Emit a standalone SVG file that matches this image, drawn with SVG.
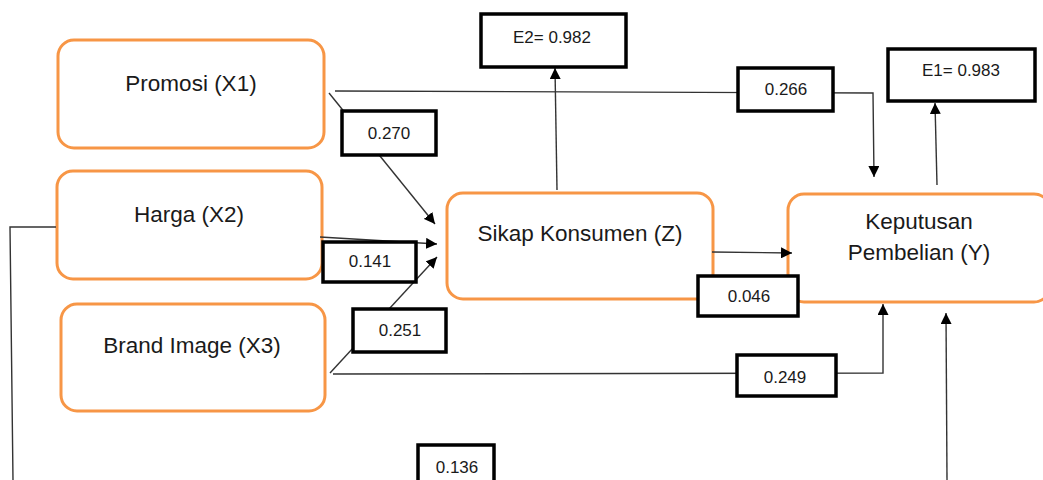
<svg xmlns="http://www.w3.org/2000/svg" width="1043" height="480" viewBox="0 0 1043 480">
  <style>
    .node { fill: #ffffff; stroke: #F79646; stroke-width: 3; }
    .ntext { font-family: "Liberation Sans", Arial, sans-serif; font-size: 22.5px; fill: #1a1a1a; text-anchor: middle; }
    .lbox { fill: #ffffff; stroke: #000000; stroke-width: 3.5; }
    .ltext { font-family: "Liberation Sans", Arial, sans-serif; font-size: 17px; fill: #1a1a1a; text-anchor: middle; }
    .conn { fill: none; stroke: #333333; stroke-width: 1.4; }
  </style>
  <defs>
    <marker id="arr" viewBox="0 0 10 10" refX="10" refY="5" markerWidth="11" markerHeight="11" markerUnits="userSpaceOnUse" orient="auto">
      <path d="M0,0 L10,5 L0,10 Z" fill="#000000"/>
    </marker>
  </defs>
  <rect width="1043" height="480" fill="#ffffff"/>

  <g id="node-promosi">
    <rect class="node" x="58" y="40" width="266" height="108" rx="16"/>
    <text class="ntext" x="191" y="91">Promosi (X1)</text>
  </g>
  <g id="node-harga">
    <rect class="node" x="57" y="171" width="265" height="108" rx="16"/>
    <text class="ntext" x="189" y="222">Harga (X2)</text>
  </g>
  <g id="node-brand">
    <rect class="node" x="61" y="304" width="264" height="107" rx="16"/>
    <text class="ntext" x="192" y="353">Brand Image (X3)</text>
  </g>
  <g id="node-sikap">
    <rect class="node" x="447" y="193" width="266" height="106" rx="16"/>
    <text class="ntext" x="580" y="241">Sikap Konsumen (Z)</text>
  </g>
  <g id="node-keputusan">
    <rect class="node" x="788" y="194" width="262" height="108" rx="16"/>
    <text class="ntext" x="919" y="229">Keputusan</text>
    <text class="ntext" x="919" y="260">Pembelian (Y)</text>
  </g>

  <g id="connectors">
    <line class="conn" x1="329" y1="93" x2="435" y2="224" marker-end="url(#arr)"/>
    <polyline class="conn" points="335,91 873,93 874,177" marker-end="url(#arr)"/>
    <line class="conn" x1="320" y1="237" x2="437" y2="244" marker-end="url(#arr)"/>
    <line class="conn" x1="330" y1="373" x2="437" y2="257" marker-end="url(#arr)"/>
    <polyline class="conn" points="333,374 883,373 883,304" marker-end="url(#arr)"/>
    <line class="conn" x1="712" y1="252" x2="792" y2="253" marker-end="url(#arr)"/>
    <line class="conn" x1="557" y1="190" x2="555" y2="68" marker-end="url(#arr)"/>
    <line class="conn" x1="937" y1="185" x2="935" y2="103" marker-end="url(#arr)"/>
    <polyline class="conn" points="56,227 10,227 13,480"/>
    <line class="conn" x1="947" y1="480" x2="946" y2="313" marker-end="url(#arr)"/>
  </g>

  <g id="label-270">
    <rect class="lbox" x="342" y="111" width="94" height="44"/>
    <text class="ltext" x="389" y="139">0.270</text>
  </g>
  <g id="label-141">
    <rect class="lbox" x="323" y="242" width="93" height="40"/>
    <text class="ltext" x="370" y="267">0.141</text>
  </g>
  <g id="label-251">
    <rect class="lbox" x="353" y="309" width="93" height="43"/>
    <text class="ltext" x="400" y="336">0.251</text>
  </g>
  <g id="label-266">
    <rect class="lbox" x="738" y="68" width="95" height="43"/>
    <text class="ltext" x="786" y="95">0.266</text>
  </g>
  <g id="label-046">
    <rect class="lbox" x="698" y="276" width="100" height="40"/>
    <text class="ltext" x="749" y="302">0.046</text>
  </g>
  <g id="label-249">
    <rect class="lbox" x="737" y="355" width="99" height="41"/>
    <text class="ltext" x="785" y="383">0.249</text>
  </g>
  <g id="label-136">
    <rect class="lbox" x="418" y="445" width="76" height="50"/>
    <text class="ltext" x="457" y="473">0.136</text>
  </g>
  <g id="node-e2">
    <rect class="lbox" x="481" y="14" width="145" height="53"/>
    <text class="ltext" x="552" y="43">E2= 0.982</text>
  </g>
  <g id="node-e1">
    <rect class="lbox" x="888" y="49" width="147" height="52"/>
    <text class="ltext" x="961" y="76">E1= 0.983</text>
  </g>
</svg>
